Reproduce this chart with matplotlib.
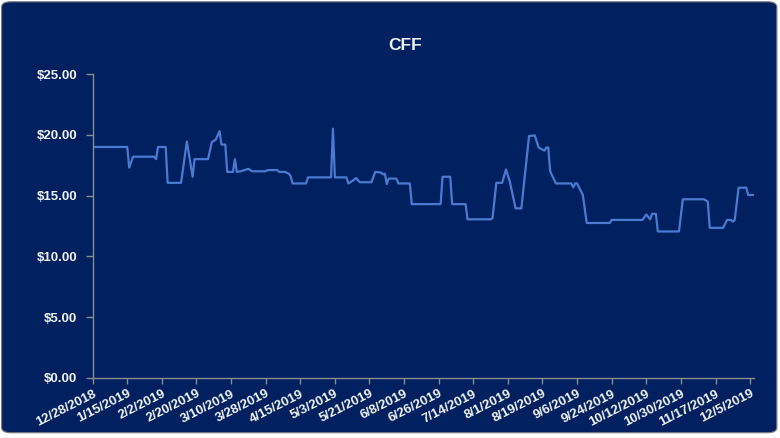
import matplotlib
matplotlib.use("Agg")
import matplotlib.pyplot as plt
import matplotlib.dates as mdates
from matplotlib.patches import FancyBboxPatch
from matplotlib.ticker import FuncFormatter
import datetime as dt

# day offsets from 12/28/2018 and CFF price
start = dt.date(2018, 12, 28)
day_offsets = [0, 18, 19, 21, 32, 33, 34, 38, 39, 46, 49, 52, 53, 60, 62, 64,
               66, 67, 69, 70, 73, 74, 75, 77, 81, 83, 90, 91, 96, 97, 100,
               102, 103, 104, 111, 112, 124, 125, 126, 132, 133, 136, 137,
               139, 145, 147, 150, 151, 152, 153, 154, 158, 159, 165, 166,
               181, 182, 186, 187, 194, 195, 207, 208, 210, 213, 215, 217,
               220, 223, 227, 230, 232, 235, 236, 237, 238, 241, 249, 250,
               251, 252, 255, 257, 269, 270, 286, 288, 290, 291, 293, 294,
               305, 307, 318, 320, 321, 328, 330, 332, 333, 334, 336, 340,
               341, 344]
prices = [19.0, 19.0, 17.3, 18.2, 18.2, 18.0, 19.0, 19.0, 16.05, 16.05, 19.45,
          16.55, 18.0, 18.0, 19.4, 19.6, 20.3, 19.2, 19.2, 16.95, 16.95, 18.0,
          16.95, 17.0, 17.2, 17.0, 17.0, 17.1, 17.1, 16.95, 16.95, 16.8, 16.6,
          16.0, 16.0, 16.5, 16.5, 20.5, 16.5, 16.5, 16.0, 16.3, 16.45, 16.1,
          16.1, 16.95, 16.9, 16.75, 16.8, 15.95, 16.4, 16.4, 16.0, 16.0, 14.3,
          14.3, 16.55, 16.55, 14.3, 14.3, 13.05, 13.05, 13.15, 16.05, 16.05,
          17.15, 16.15, 13.95, 13.95, 19.9, 19.95, 18.95, 18.7, 18.95, 18.95,
          17.0, 16.0, 16.0, 15.68, 16.0, 16.0, 15.05, 12.75, 12.75, 13.0,
          13.0, 13.45, 13.05, 13.5, 13.5, 12.05, 12.05, 14.7, 14.7, 14.5,
          12.35, 12.35, 13.0, 13.0, 12.85, 13.0, 15.65, 15.65, 15.05, 15.05]
dates = [start + dt.timedelta(days=d) for d in day_offsets]

tick_dates = [start + dt.timedelta(days=18 * i) for i in range(20)]
y_ticks = [0, 5, 10, 15, 20, 25]

navy = "#002060"
txt = "#f2f2f2"
grey = "#8c8c8c"

fig = plt.figure(figsize=(7.8, 4.38), dpi=100)
fig.patch.set_facecolor("white")
box = FancyBboxPatch((0.002, 0.012), 0.994, 0.984,
                     boxstyle="round,pad=0,rounding_size=0.012",
                     transform=fig.transFigure, facecolor=navy,
                     edgecolor="#7f7f7f", linewidth=0.8, zorder=-10)
fig.patches.append(box)

ax = fig.add_axes([0.1188, 0.137, 0.8478, 0.694])
ax.set_facecolor(navy)
ax.plot(dates, prices, color="#4a7bd0", linewidth=1.6)

ax.set_xlim(start, start + dt.timedelta(days=344))
ax.set_ylim(0, 25)
ax.set_yticks(y_ticks)
ax.yaxis.set_major_formatter(FuncFormatter(lambda v, p: f"${v:,.2f}"))
ax.set_xticks(tick_dates)
ax.xaxis.set_major_formatter(
    FuncFormatter(lambda v, p: (lambda d: f"{d.month}/{d.day}/{d.year}")(mdates.num2date(v))))

for s in ["top", "right"]:
    ax.spines[s].set_visible(False)
for s in ["left", "bottom"]:
    ax.spines[s].set_color(grey)
    ax.spines[s].set_linewidth(1.0)

ax.tick_params(axis="y", colors=grey, length=5, width=1, pad=6)
ax.tick_params(axis="x", colors=grey, length=4, width=1, pad=3)
for lab in ax.get_yticklabels():
    lab.set_color(txt)
    lab.set_fontweight("bold")
    lab.set_fontsize(9.5)
    lab.set_family("Liberation Sans")
for lab in ax.get_xticklabels():
    lab.set_color(txt)
    lab.set_fontweight("bold")
    lab.set_fontsize(9.5)
    lab.set_family("Liberation Sans")
    lab.set_rotation(27)
    lab.set_ha("right")
    lab.set_rotation_mode("anchor")

fig.text(0.52, 0.895, "CFF", color=txt, fontsize=12.5, fontweight="bold",
         family="Liberation Sans", ha="center", va="center")

fig.savefig("out.png", dpi=100, facecolor=fig.get_facecolor())
